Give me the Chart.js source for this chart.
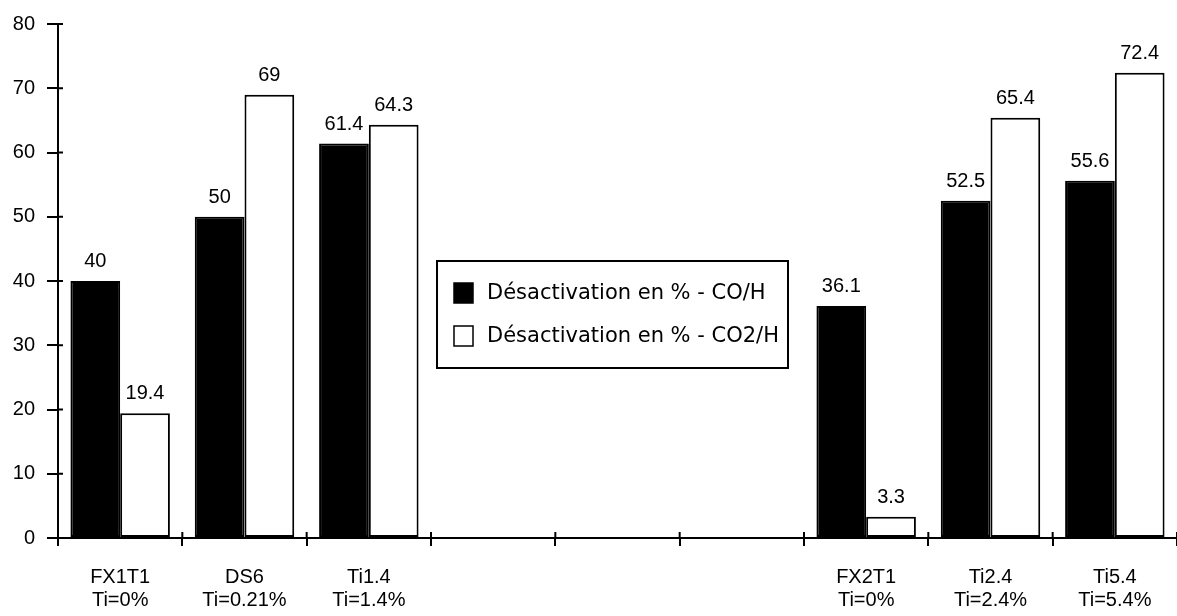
<!DOCTYPE html>
<html>
<head>
<meta charset="utf-8">
<script src="https://cdn.jsdelivr.net/npm/chart.js@4.4.0/dist/chart.umd.min.js"></script>
<style>
    html, body { margin: 0; padding: 0; background: #fff; }
    #wrap { width: 1177px; height: 616px; }
</style>
</head>
<body>
<div id="wrap"><canvas id="chart" width="1177" height="616"></canvas></div>
<script>
// categories (empty slots keep the gap in the middle of the chart)
const sampleNames = ['FX1T1', 'DS6', 'Ti1.4', '', '', '', 'FX2T1', 'Ti2.4', 'Ti5.4'];
const tiContents = ['Ti=0%', 'Ti=0.21%', 'Ti=1.4%', '', '', '', 'Ti=0%', 'Ti=2.4%', 'Ti=5.4%'];

const coValues = [40, 50, 61.4, null, null, null, 36.1, 52.5, 55.6];
const co2Values = [19.4, 69, 64.3, null, null, null, 3.3, 65.4, 72.4];

const seriesNames = ['Désactivation en % - CO/H', 'Désactivation en % - CO2/H'];
const yTicks = [0, 10, 20, 30, 40, 50, 60, 70, 80];

const labels = sampleNames.map((name, i) => name ? [name, tiContents[i]] : '');

const FONT = '"Liberation Sans", Arial, sans-serif';

// value labels above the bars
const valueLabels = {
    id: 'valueLabels',
    afterDatasetsDraw(chart) {
        const ctx = chart.ctx;
        ctx.save();
        ctx.fillStyle = '#000';
        ctx.font = '20px ' + FONT;
        ctx.textAlign = 'center';
        ctx.textBaseline = 'alphabetic';
        chart.data.datasets.forEach((ds, di) => {
            chart.getDatasetMeta(di).data.forEach((bar, i) => {
                const v = ds.data[i];
                if (v === null || v === undefined) return;
                ctx.fillText(String(v), bar.x, bar.y - 14);
            });
        });
        ctx.restore();
    }
};

// small inner half of the tick marks, so they cross the axes
const crossTicks = {
    id: 'crossTicks',
    afterDraw(chart) {
        const ctx = chart.ctx;
        const x = chart.scales.x, y = chart.scales.y;
        const area = chart.chartArea;
        ctx.save();
        ctx.strokeStyle = '#000';
        ctx.lineWidth = 2;
        ctx.beginPath();
        yTicks.forEach(t => {
            const py = y.getPixelForValue(t);
            ctx.moveTo(area.left, py);
            ctx.lineTo(area.left + 5, py);
        });
        const half = (x.getPixelForValue(1) - x.getPixelForValue(0)) / 2;
        for (let i = 0; i <= labels.length; i++) {
            const px = x.getPixelForValue(0) - half + i * half * 2;
            ctx.moveTo(px, area.bottom - 6);
            ctx.lineTo(px, area.bottom);
        }
        ctx.stroke();
        ctx.restore();
    }
};

// legend box drawn in the middle of the plot
const boxLegend = {
    id: 'boxLegend',
    afterDraw(chart) {
        const ctx = chart.ctx;
        ctx.save();
        ctx.strokeStyle = '#000';
        ctx.lineWidth = 2;
        ctx.strokeRect(437, 261, 351, 107);
        const rows = [293, 336];
        chart.data.datasets.forEach((ds, i) => {
            const cy = rows[i];
            ctx.fillStyle = ds.backgroundColor;
            ctx.fillRect(454, cy - 10, 19, 20);
            ctx.lineWidth = 1.5;
            ctx.strokeRect(454, cy - 10, 19, 20);
            ctx.fillStyle = '#000';
            ctx.font = '21px "DejaVu Sans", sans-serif';
            ctx.textAlign = 'left';
            ctx.textBaseline = 'middle';
            ctx.fillText(ds.label, 487, cy + 1);
        });
        ctx.restore();
    }
};

new Chart(document.getElementById('chart'), {
    type: 'bar',
    data: {
        labels,
        datasets: [
            { label: seriesNames[0], data: coValues, backgroundColor: '#000', borderColor: '#000', borderWidth: 2, borderSkipped: false },
            { label: seriesNames[1], data: co2Values, backgroundColor: '#fff', borderColor: '#000', borderWidth: 2, borderSkipped: false }
        ]
    },
    options: {
        responsive: false,
        animation: false,
        devicePixelRatio: 1,
        layout: { padding: { top: 20, right: 0, left: 0, bottom: 0 } },
        datasets: { bar: { categoryPercentage: 0.8, barPercentage: 1.0 } },
        plugins: { legend: { display: false }, tooltip: { enabled: false } },
        scales: {
            x: {
                afterFit(scale) { scale.height = 78; },
                grid: { offset: true, drawOnChartArea: false, drawTicks: true, tickLength: 8, color: '#000', lineWidth: 2 },
                border: { color: '#000', width: 2 },
                ticks: { color: '#000', font: { family: FONT, size: 20, lineHeight: 1.15 }, padding: 20, maxRotation: 0, autoSkip: false }
            },
            y: {
                min: 0,
                max: 80,
                afterFit(scale) { scale.width = 58; },
                afterBuildTicks(scale) { scale.ticks = yTicks.map(v => ({ value: v })); },
                grid: { drawOnChartArea: false, drawTicks: true, tickLength: 11, color: '#000', lineWidth: 2 },
                border: { color: '#000', width: 2 },
                ticks: { color: '#000', font: { family: FONT, size: 20 }, padding: 12 }
            }
        }
    },
    plugins: [valueLabels, crossTicks, boxLegend]
});
</script>
</body>
</html>
